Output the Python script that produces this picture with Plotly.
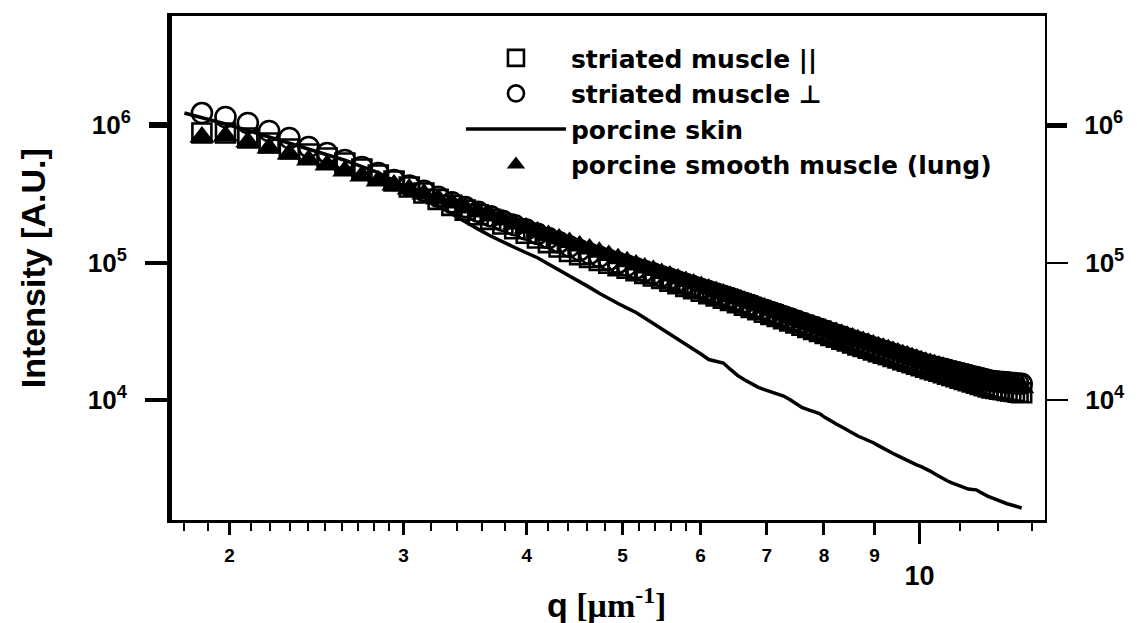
import plotly.graph_objects as go

# ---------------- data ----------------
q_muscle = [
    1.875, 1.981, 2.087, 2.193, 2.299, 2.405, 2.511, 2.617, 2.723, 2.829,
    2.935, 3.041, 3.147, 3.253, 3.359, 3.465, 3.571, 3.677, 3.783, 3.889,
    3.995, 4.101, 4.207, 4.313, 4.419, 4.525, 4.631, 4.737, 4.843, 4.949,
    5.055, 5.161, 5.267, 5.373, 5.479, 5.585, 5.691, 5.797, 5.903, 6.009,
    6.115, 6.221, 6.327, 6.433, 6.539, 6.645, 6.751, 6.857, 6.963, 7.069,
    7.175, 7.281, 7.387, 7.493, 7.599, 7.705, 7.811, 7.917, 8.023, 8.129,
    8.235, 8.341, 8.447, 8.553, 8.659, 8.765, 8.871, 8.977, 9.083, 9.189,
    9.295, 9.401, 9.507, 9.613, 9.719, 9.825, 9.931, 10.037, 10.143, 10.249,
    10.355, 10.461, 10.567, 10.673, 10.779, 10.885, 10.991, 11.097, 11.203, 11.309,
    11.415, 11.521, 11.627, 11.733, 11.839, 11.945, 12.051, 12.157, 12.263, 12.369,
    12.475, 12.581, 12.687,
]

q_skin = [1.80] + q_muscle

I_striated_par = [
    874700, 874700, 804500, 739900, 669300, 615600, 575700, 529500, 478900, 433200,
    391800, 354400, 320500, 288000, 260400, 240300, 222200, 206000, 190700, 176000,
    163000, 150900, 139600, 129500, 120200, 114000, 108600, 103500, 98700, 94600,
    90800, 87000, 83300, 79800, 76400, 73200, 70100, 67100, 64400, 61800,
    59300, 57200, 55000, 53000, 50950, 49000, 47100, 45300, 43500, 41950,
    40450, 39000, 37640, 36300, 35000, 33760, 32640, 31570, 30530, 29530,
    28590, 27700, 26830, 25990, 25180, 24480, 23790, 23130, 22480, 21890,
    21310, 20740, 20190, 19650, 19160, 18660, 18200, 17740, 17310, 16910,
    16520, 16170, 15790, 15420, 15090, 14760, 14420, 14120, 13830, 13540,
    13260, 12990, 12730, 12460, 12240, 12110, 11980, 11860, 11750, 11630,
    11520, 11400, 11280,
]

I_striated_perp = [
    1222000, 1143000, 1034000, 904400, 804500, 692000, 626000, 556800, 495200, 447900,
    398400, 363400, 331900, 300800, 273900, 252900, 233600, 216700, 200900, 186600,
    173400, 161400, 150400, 140000, 130700, 122600, 115800, 109900, 104400, 99300,
    94900, 90600, 86700, 83000, 79400, 76100, 72800, 69800, 66900, 64200,
    61700, 59400, 57200, 55100, 52900, 50900, 49000, 47100, 45300, 43700,
    42100, 40600, 39200, 37800, 36500, 35200, 34000, 32900, 31800, 30700,
    29800, 28900, 28000, 27100, 26300, 25500, 24800, 24100, 23400, 22800,
    22200, 21600, 21050, 20500, 20000, 19500, 19000, 18550, 18120, 17780,
    17470, 17160, 16860, 16560, 16260, 15970, 15700, 15420, 15170, 14900,
    14660, 14420, 14180, 13940, 13740, 13670, 13590, 13500, 13430, 13350,
    13260, 13190, 13120,
]

I_lung = [
    818100, 831900, 752400, 680600, 615600, 556800, 512100, 463100, 426000, 391800,
    366400, 342700, 315200, 289900, 271100, 249300, 233200, 218100, 204000, 190700,
    178400, 166800, 157400, 148400, 140000, 132000, 125600, 118500, 112300, 106300,
    101100, 95900, 91200, 87300, 83300, 79800, 75900, 72800, 69800, 66800,
    64200, 61500, 59000, 56700, 54400, 52200, 50300, 48400, 46600, 44900,
    43300, 41700, 40200, 38900, 37500, 36300, 35100, 33950, 32900, 31900,
    30950, 29980, 29090, 28230, 27390, 26620, 25870, 25150, 24440, 23790,
    23170, 22550, 21960, 21380, 20850, 20300, 19790, 19300, 18850, 18450,
    18050, 17690, 17310, 16970, 16630, 16300, 15980, 15670, 15370, 15070,
    14790, 14500, 14230, 13960, 13720, 13540, 13330, 13160, 12970, 12800,
    12600, 12440, 12270,
]

I_skin = [
    1222000,
    1132000, 1017000, 912000, 819500, 739900, 671500, 611500, 553900, 497700, 450300,
    393100, 342100, 297800, 257800, 224800, 196900, 174900, 155800, 140500, 128600,
    117800, 108300, 97520, 88350, 80180, 72890, 65930, 59730, 54340, 50280,
    46620, 43250, 39510, 36090, 33030, 30290, 27780, 25530, 23460, 21490,
    19690, 19070, 18560, 16680, 15090, 14020, 13160, 12400, 11880, 11460,
    11060, 10680, 10070, 9430, 8820, 8520, 8250, 7960, 7450, 7010,
    6690, 6365, 6030, 5720, 5470, 5270, 5090, 4890, 4660, 4435,
    4250, 4080, 3920, 3760, 3620, 3485, 3370, 3280, 3180, 3040,
    2910, 2780, 2660, 2575, 2500, 2435, 2365, 2305, 2250, 2235,
    2220, 2130, 2045, 1990, 1940, 1888, 1845, 1796, 1760, 1730,
    1700, 1670, 1640,
]

names = ["striated muscle ||", "striated muscle \u22a5", "porcine skin",
         "porcine smooth muscle (lung)"]

x_major = [2, 3, 4, 5, 6, 7, 8, 9]
x_major_text = ["2", "3", "4", "5", "6", "7", "8", "9"]
x_decade = [10]
x_decade_text = ["10"]
x_minor = [1.8, 1.9, 2.1, 2.2, 2.3, 2.4, 2.5, 2.6, 2.7, 2.8, 2.9,
           3.2, 3.4, 3.6, 3.8, 4.2, 4.4, 4.6, 4.8, 5.2, 5.4, 5.6, 5.8,
           11, 12, 13]
y_ticks = [1e4, 1e5]
y_ticks_text = ["10<sup>4</sup>", "10<sup>5</sup>"]
y_top_tick = [1e6]
y_top_tick_text = ["10<sup>6</sup>"]

x_range = [0.2427, 1.1270]   # log10 of q range
y_range = [3.1273, 6.7927]   # log10 of intensity range

# ---------------- figure ----------------
fig = go.Figure()
fig.add_trace(go.Scatter(
    x=q_muscle, y=I_striated_par, mode="markers", name=names[0], legendrank=1,
    xaxis="x", yaxis="y",
    marker=dict(symbol="square-open", size=19, color="black",
                line=dict(width=2.6, color="black"))))
fig.add_trace(go.Scatter(
    x=q_muscle, y=I_striated_perp, mode="markers", name=names[1], legendrank=2,
    xaxis="x", yaxis="y2",
    marker=dict(symbol="circle-open", size=20, color="black",
                line=dict(width=2.6, color="black"))))
fig.add_trace(go.Scatter(
    x=q_muscle, y=I_lung, mode="markers", name=names[3], legendrank=4,
    xaxis="x", yaxis="y3",
    marker=dict(symbol="triangle-up", size=22, color="black",
                line=dict(width=0))))
fig.add_trace(go.Scatter(
    x=q_skin, y=I_skin, mode="lines", name=names[2], legendrank=3,
    xaxis="x2", yaxis="y4",
    line=dict(color="black", width=3.5)))

tick_font = dict(family="Liberation Sans", color="black", weight="bold")

fig.update_layout(
    width=1137, height=623,
    margin=dict(l=172, r=86, t=16, b=103),
    paper_bgcolor="white", plot_bgcolor="white",
    showlegend=True,
    legend=dict(x=0.331, y=0.962, xanchor="left", yanchor="top",
                bgcolor="rgba(0,0,0,0)", borderwidth=0, itemwidth=100,
                font=dict(family="DejaVu Sans", size=25, color="black", weight="bold")),
    xaxis=dict(type="log", range=x_range, showgrid=False, zeroline=False,
               showline=True, linewidth=3, linecolor="black", mirror=True,
               ticks="outside", ticklen=12, tickwidth=3, tickcolor="black",
               tickmode="array", tickvals=x_major, ticktext=x_major_text,
               tickfont=dict(size=19, **tick_font), ticklabelstandoff=4,
               minor=dict(tickmode="array", tickvals=x_minor, ticks="outside",
                          ticklen=8, tickwidth=2, tickcolor="black", showgrid=False)),
    xaxis2=dict(type="log", range=x_range, overlaying="x", anchor="y", side="bottom",
                showgrid=False, zeroline=False, showline=False,
                ticks="outside", ticklen=23, tickwidth=3, tickcolor="black",
                tickmode="array", tickvals=x_decade, ticktext=x_decade_text,
                tickfont=dict(size=27, **tick_font), ticklabelstandoff=9),
    yaxis=dict(type="log", range=y_range, showgrid=False, zeroline=False,
               showline=True, linewidth=5, linecolor="black",
               ticks="outside", ticklen=22, tickwidth=4, tickcolor="black",
               tickmode="array", tickvals=y_ticks, ticktext=y_ticks_text,
               tickfont=dict(size=26, **tick_font), ticklabelstandoff=13),
    yaxis3=dict(type="log", range=y_range, overlaying="y", anchor="x", side="left",
                showgrid=False, zeroline=False, showline=False,
                ticks="outside", ticklen=22, tickwidth=6, tickcolor="black",
                tickmode="array", tickvals=y_top_tick, ticktext=y_top_tick_text,
                tickfont=dict(size=26, **tick_font), ticklabelstandoff=13),
    yaxis2=dict(type="log", range=y_range, overlaying="y", anchor="x", side="right",
                showgrid=False, zeroline=False,
                showline=True, linewidth=2, linecolor="black",
                ticks="outside", ticklen=21, tickwidth=2, tickcolor="black",
                tickmode="array", tickvals=y_ticks, ticktext=y_ticks_text,
                tickfont=dict(size=26, **tick_font), ticklabelstandoff=12),
    yaxis4=dict(type="log", range=y_range, overlaying="y", anchor="x", side="right",
                showgrid=False, zeroline=False, showline=False,
                ticks="outside", ticklen=21, tickwidth=5, tickcolor="black",
                tickmode="array", tickvals=y_top_tick, ticktext=y_top_tick_text,
                tickfont=dict(size=26, **tick_font), ticklabelstandoff=12),
    annotations=[
        dict(text="<b>Intensity [A.U.]</b>", xref="paper", yref="paper",
             x=-0.159, y=0.5, xanchor="center", yanchor="middle", textangle=-90,
             showarrow=False, font=dict(family="Liberation Sans", size=34, color="black")),
        dict(text='<b><span style="font-family:Liberation Sans">q</span> [\u03bcm<sup>-1</sup>]</b>',
             xref="paper", yref="paper", x=0.498, y=-0.165,
             xanchor="center", yanchor="middle", showarrow=False,
             font=dict(family="Liberation Serif", size=34, color="black")),
    ],
)

fig.write_html("out.html", config={"displayModeBar": False})
